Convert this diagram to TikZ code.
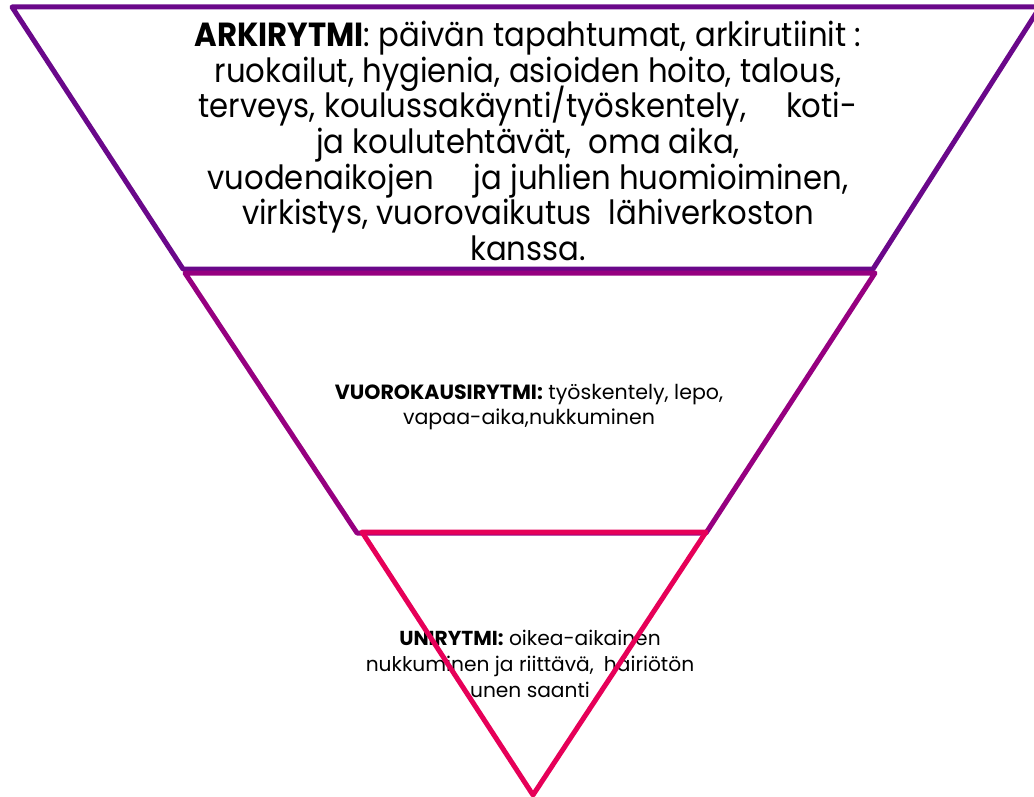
\documentclass[tikz,border=0pt]{standalone}
\usepackage{fontspec}
\setmainfont{Poppins}
\newfontfamily\narrowfont[FakeStretch=0.92]{Poppins}
\usepackage{tikz}
\usepackage{xcolor}

\definecolor{arkicol}{RGB}{106,8,138}
\definecolor{vuorocol}{RGB}{150,0,128}
\definecolor{unicol}{RGB}{230,0,88}

\tikzset{
    layer/.style={line width=0.1cm, line join=round},
    layertext/.style={align=center, inner sep=0pt}
}
\lineskiplimit=-20pt\relax

\begin{document}
\begin{tikzpicture}[x=0.02cm, y=-0.02cm]
    \useasboundingbox (0,0) rectangle (1034,797);
    \clip (0,0) rectangle (1034,797);

    % Texts
    \node[layertext, font=\narrowfont\fontsize{19pt}{20.3pt}\selectfont] (arki) at (528,141)
        {\textbf{ARKIRYTMI}: päivän tapahtumat, arkirutiinit :\\
         ruokailut, hygienia, asioiden hoito, talous,\\
         terveys, koulussakäynti/työskentely,\hspace{1.2em}koti-\\
         ja koulutehtävät,\hspace{0.5em}oma aika,\\
         vuodenaikojen\hspace{1.2em}ja juhlien huomioiminen,\\
         virkistys, vuorovaikutus\hspace{0.5em}lähiverkoston\\
         kanssa.};
    \node[layertext, font=\fontsize{11.7pt}{14.2pt}\selectfont] (vuoro) at (529,407)
        {\textbf{VUOROKAUSIRYTMI:} työskentely, lepo,\\
         vapaa-aika,nukkuminen};
    \node[layertext, font=\fontsize{11.5pt}{14.8pt}\selectfont] (uni) at (530,664)
        {\textbf{UNIRYTMI:} oikea-aikainen\\
         nukkuminen ja riittävä,\hspace{0.5em}häiriötön\\
         unen saanti};

    % Level 1 (top)
    \draw[layer, arkicol] (12,7) -- (1040,7) -- (873,269) -- (183,269) -- cycle;

    % Level 2 (middle)
    \draw[layer, vuorocol] (185,273) -- (875,273) -- (706,533) -- (357,533) -- cycle;

    % Level 3 (bottom)
    \draw[layer, unicol] (362,532) -- (706,532) -- (533,795) -- cycle;
\end{tikzpicture}
\end{document}
